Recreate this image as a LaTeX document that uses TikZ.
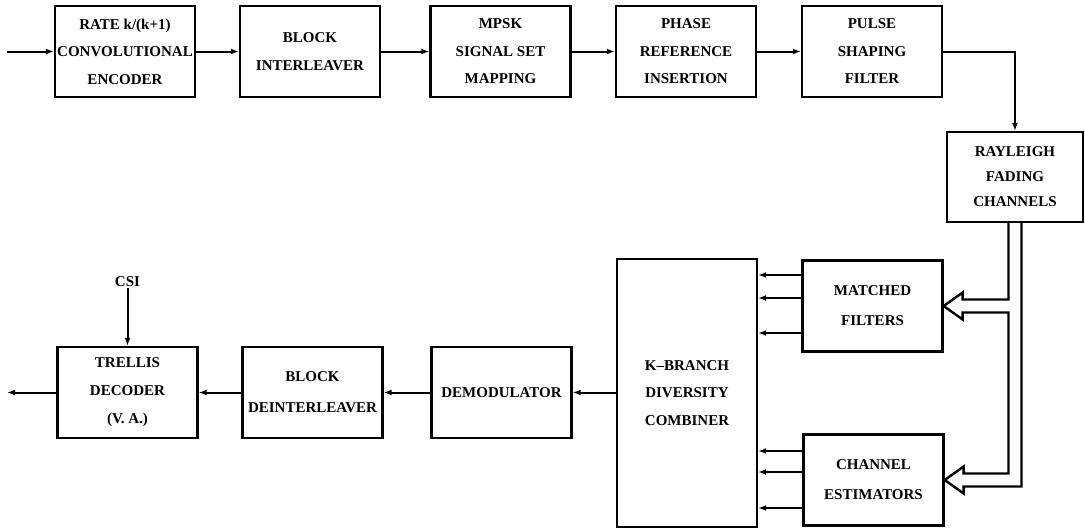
\documentclass[tikz,border=0pt]{standalone}
\usepackage{fontspec}
\setmainfont{Liberation Serif}
\usetikzlibrary{arrows.meta,calc}
\begin{document}
\begin{tikzpicture}[x=1pt,y=-1pt,
  blk/.style={draw,line width=2.3pt,minimum width=140pt,minimum height=91pt,inner sep=0pt,align=center,
    font=\fontsize{15}{27.5}\selectfont\bfseries},
  lbl/.style={inner sep=1pt,font=\fontsize{15}{27}\selectfont\bfseries},
  arr/.style={line width=2pt,-{Latex[length=8pt,width=6pt]}},
  dbl/.style={line width=2.4pt,line join=miter}]
\useasboundingbox (0,0) rectangle (1085,530);
% top row
\node[blk] (enc) at (125,51.5) {RATE k/(k+1)\\CONVOLUTIONAL\\ENCODER};
\node[blk] (intl) at (310,51.5) {BLOCK\\INTERLEAVER};
\node[blk] (map) at (500.5,51.5) {MPSK\\SIGNAL SET\\MAPPING};
\node[blk] (phase) at (686,51.5) {PHASE\\REFERENCE\\INSERTION};
\node[blk] (pulse) at (872,51.5) {PULSE\\SHAPING\\FILTER};
\node[blk,minimum width=136pt,minimum height=90pt,font=\fontsize{15}{25}\selectfont\bfseries] (ray) at (1015,177) {RAYLEIGH\\FADING\\CHANNELS};
% right column
\node[blk,font=\fontsize{15}{30}\selectfont\bfseries] (mf) at (872.5,306) {MATCHED\\FILTERS};
\node[blk,font=\fontsize{15}{30}\selectfont\bfseries] (ce) at (873.5,480) {CHANNEL\\ESTIMATORS};
\node[blk,minimum height=268pt] (comb) at (687,393) {K--BRANCH\\DIVERSITY\\COMBINER};
% bottom row
\node[blk] (demod) at (501.5,392.5) {DEMODULATOR};
\node[blk,font=\fontsize{15}{31}\selectfont\bfseries] (deint) at (312.5,392.5) {BLOCK\\DEINTERLEAVER};
\node[blk,font=\fontsize{15}{28}\selectfont\bfseries] (trel) at (127.5,392.5) {TRELLIS\\DECODER\\(V. A.)};
\node[lbl] (csi) at (127.5,282) {CSI};
% coordinates for free ends
\coordinate (in) at (7,51.5);
\coordinate (out) at (7,392.5);
% top row connectors
\draw[arr] (in) -- (enc.west);
\draw[arr] (enc.east) -- (intl.west);
\draw[arr] (intl.east) -- (map.west);
\draw[arr] (map.east) -- (phase.west);
\draw[arr] (phase.east) -- (pulse.west);
\draw[arr] (pulse.east) -| (ray.north);
% combiner inputs
\foreach \d [count=\i] in {-31,-8,27}{
  \coordinate (ma\i) at ($(mf.west)+(0,\d)$);
  \draw[arr] (ma\i) -- (comb.east |- ma\i);
}
\foreach \d [count=\i] in {-29,-8,28}{
  \coordinate (ca\i) at ($(ce.west)+(0,\d)$);
  \draw[arr] (ca\i) -- (comb.east |- ca\i);
}
% bottom row connectors
\draw[arr] (comb.west |- demod.east) -- (demod.east);
\draw[arr] (demod.west) -- (deint.east);
\draw[arr] (deint.west) -- (trel.east);
\draw[arr] (trel.west) -- (out);
\draw[arr] (csi.south) -- (trel.north);
% double (hollow) arrows from the channel
\coordinate (r1) at ($(ray.south)+(-6.5,0)$);
\coordinate (r2) at ($(ray.south)+(6.5,0)$);
\coordinate (m1) at ($(mf.east)+(19,-6.5)$);
\coordinate (m1b) at ($(mf.east)+(19,-13.5)$);
\coordinate (m2) at ($(mf.east)+(19,6.5)$);
\coordinate (m2b) at ($(mf.east)+(19,13.5)$);
\coordinate (c1) at ($(ce.east)+(19,-6.5)$);
\coordinate (c1b) at ($(ce.east)+(19,-13.5)$);
\coordinate (c2) at ($(ce.east)+(19,6.5)$);
\coordinate (c2b) at ($(ce.east)+(19,13.5)$);
\draw[dbl] (r1) -- (r1 |- m1) -- (m1) -- (m1b) -- (mf.east) -- (m2b) -- (m2) -- (r1 |- m2)
  -- (r1 |- c1) -- (c1) -- (c1b) -- (ce.east) -- (c2b) -- (c2) -- (r2 |- c2) -- (r2);
\end{tikzpicture}
\end{document}
